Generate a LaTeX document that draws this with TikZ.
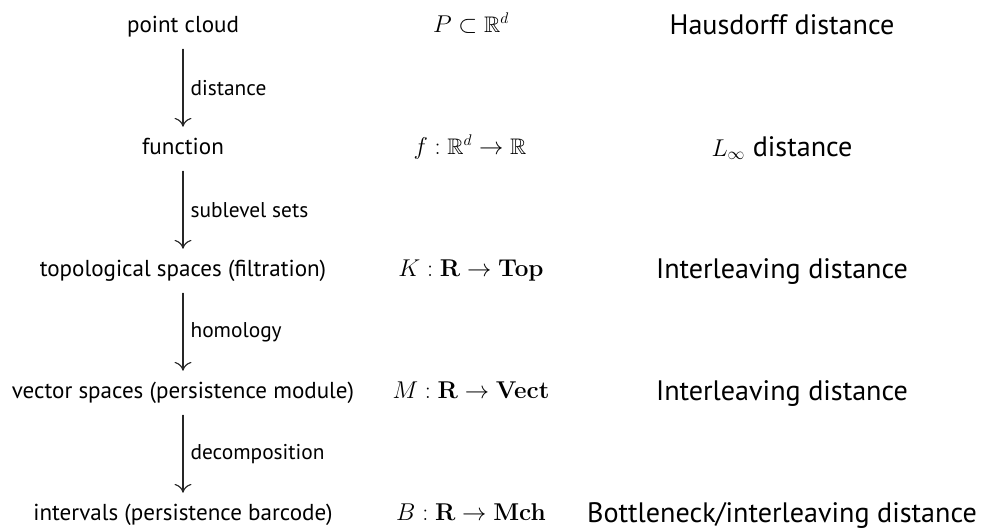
\documentclass[tikz,border=0pt]{standalone}
\usepackage{amssymb}
\usepackage[no-math]{fontspec}
\setmainfont{PT Sans}
\usetikzlibrary{arrows.meta, positioning, calc}

\begin{document}
\begin{tikzpicture}[x=0.025cm, y=-0.025cm, line join=round, line cap=round,
    stage/.style={font=\fontsize{16.4}{19}\selectfont, inner sep=0pt, minimum height=1.1cm, text height=11.5pt, text depth=3pt},
    form/.style={font=\fontsize{16}{19}\selectfont, inner sep=0pt, text height=12pt, text depth=4pt},
    metric/.style={font=\fontsize{20}{23}\selectfont, inner sep=0pt, text height=14pt, text depth=4pt},
    step label/.style={font=\fontsize{15.2}{18}\selectfont, inner sep=0pt, right=5pt, midway},
    flow/.style={-{To[length=2.2mm, width=4.2mm]}, line width=0.8pt, draw=black!85}]
      \useasboundingbox (0,0) rectangle (983,529);
      \node[stage] (pc) at (183,27) {point cloud};
      \node[stage] (fn) at (183,149) {function};
      \node[stage] (top) at (183,271) {topological spaces (filtration)};
      \node[stage] (vec) at (183,393) {vector spaces (persistence module)};
      \node[stage] (bar) at (183,515) {intervals (persistence barcode)};
      \node[form] (P) at (471,27) {\(P \subset \mathbb{R}^d\)};
      \node[form] (f) at (470,149) {\(f : \mathbb{R}^d \to \mathbb{R}\)};
      \node[form] (K) at (471,271) {\(K : \mathbf{R} \to \mathbf{Top}\)};
      \node[form] (M) at (471,393) {\(M : \mathbf{R} \to \mathbf{Vect}\)};
      \node[form] (B) at (471,515) {\(B : \mathbf{R} \to \mathbf{Mch}\)};
      \node[metric] (dH) at (782,27) {Hausdorff distance};
      \node[metric] (dL) at (782,149) {{\fontsize{17}{20}\selectfont\(L_\infty\)} distance};
      \node[metric] (dI1) at (782,271) {Interleaving distance};
      \node[metric] (dI2) at (782,393) {Interleaving distance};
      \node[metric] (dB) at (782,515) {Bottleneck/interleaving distance};
      \draw[flow] (pc) -- (fn) node[step label] {distance};
      \draw[flow] (fn) -- (top) node[step label] {sublevel sets};
      \draw[flow] (top) -- (vec) node[step label] {homology};
      \draw[flow] (vec) -- (bar) node[step label] {decomposition};
    \end{tikzpicture}
\end{document}
